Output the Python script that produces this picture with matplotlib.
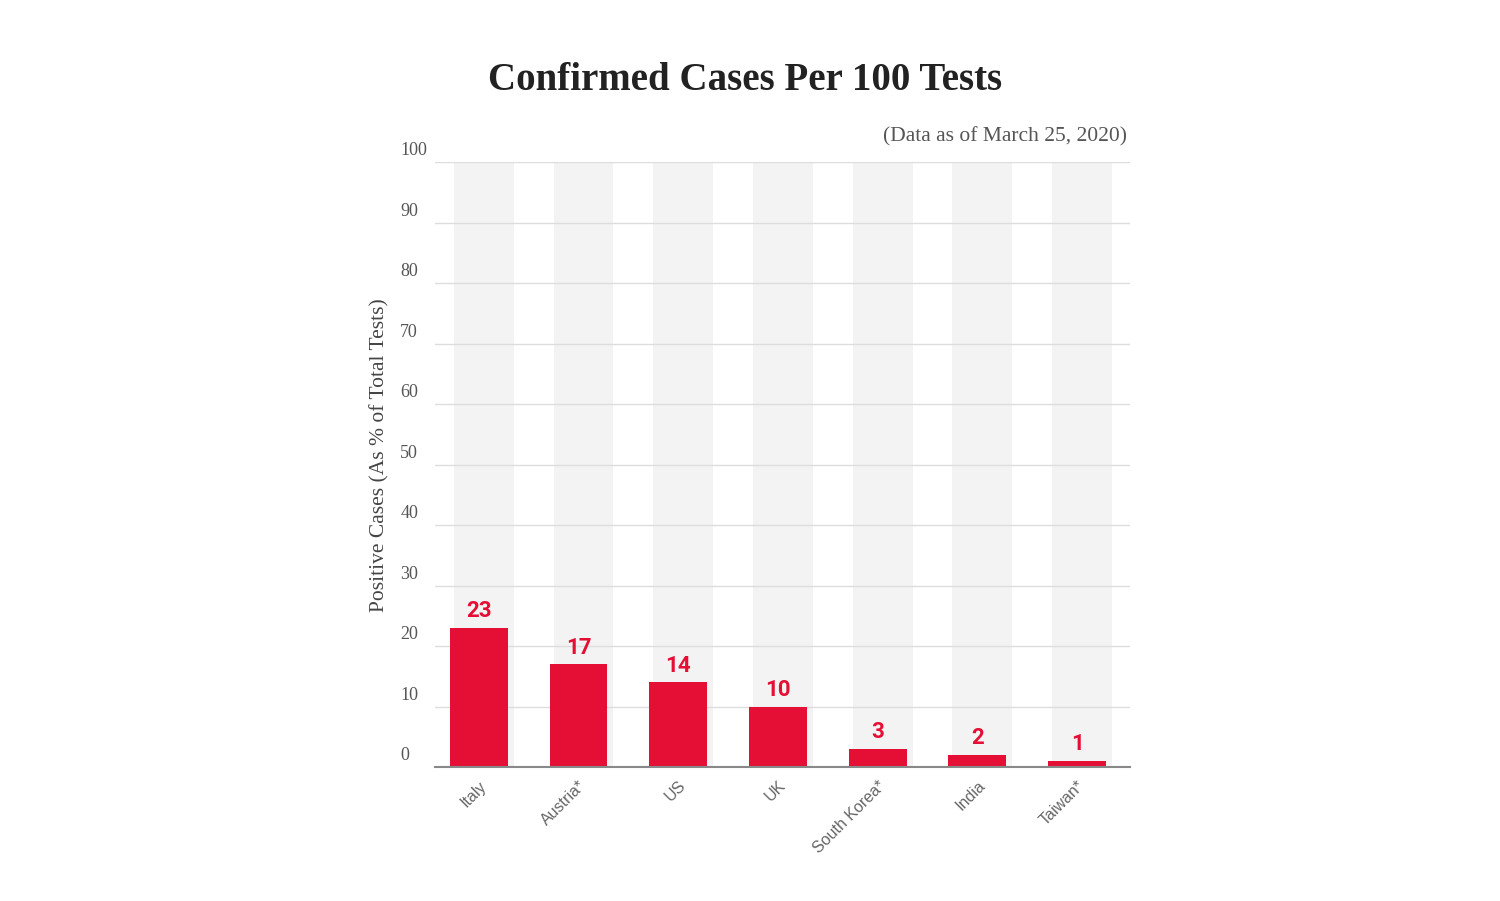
import numpy as np
import matplotlib.pyplot as plt
import matplotlib.transforms as mtransforms

# --- DATA ---
countries = ["Italy", "Austria*", "US", "UK", "South Korea*", "India", "Taiwan*"]
cases_per_100 = [23, 17, 14, 10, 3, 2, 1]
yticks = [0, 10, 20, 30, 40, 50, 60, 70, 80, 90, 100]

red = "#e50f35"
x = np.arange(len(countries))

fig = plt.figure(figsize=(15, 9.01), dpi=100)
ax = fig.add_axes([0.29, 0.1487, 0.4633, 0.6713])

# light gray band behind each category
ax.bar(x + 0.05, [100] * len(x), width=0.6, color="#f3f3f3", zorder=0)
ax.bar(x, cases_per_100, width=0.58, color=red, zorder=3)

for xi, v in zip(x, cases_per_100):
    ax.annotate(str(v), (xi, v), xytext=(0, 4), textcoords="offset points",
                ha="center", va="bottom", color=red, fontsize=16,
                fontweight="bold", family="Roboto", zorder=4)

ax.set_xlim(-0.44, 6.53)
ax.set_ylim(0, 100)
ax.set_yticks(yticks)
ax.set_yticklabels([str(t) for t in yticks], family="Liberation Serif",
                   fontsize=13, color="#555555")
ax.tick_params(axis="y", length=0, pad=25)
offset = mtransforms.ScaledTranslation(0, 2 / 72, fig.dpi_scale_trans)
for lbl in ax.get_yticklabels():
    lbl.set_horizontalalignment("left")
    lbl.set_verticalalignment("bottom")
    lbl.set_transform(lbl.get_transform() + offset)

ax.set_xticks(x)
ax.set_xticklabels(countries, rotation=45, ha="right", rotation_mode="anchor",
                   fontsize=11.5, color="#666666", family="Liberation Sans")
ax.tick_params(axis="x", length=0, pad=8)

ax.grid(axis="y", color="#dddddd", linewidth=1, zorder=1)
ax.set_axisbelow(True)
for s in ["top", "right", "left"]:
    ax.spines[s].set_visible(False)
ax.spines["bottom"].set_color("#888888")
ax.spines["bottom"].set_linewidth(1.5)
ax.spines["bottom"].set_zorder(5)

fig.text(0.497, 0.911, "Confirmed Cases Per 100 Tests", ha="center", va="center",
         family="Liberation Serif", fontweight="bold", fontsize=28, color="#222222")
fig.text(0.7513, 0.848, "(Data as of March 25, 2020)", ha="right", va="center",
         family="Liberation Serif", fontsize=15.5, color="#555555")
fig.text(0.2533, 0.495, "Positive Cases (As % of Total Tests)", ha="center", va="center",
         rotation=90, family="Liberation Serif", fontsize=15.5, color="#444444")

fig.savefig("out.png", dpi=100, facecolor="white")
